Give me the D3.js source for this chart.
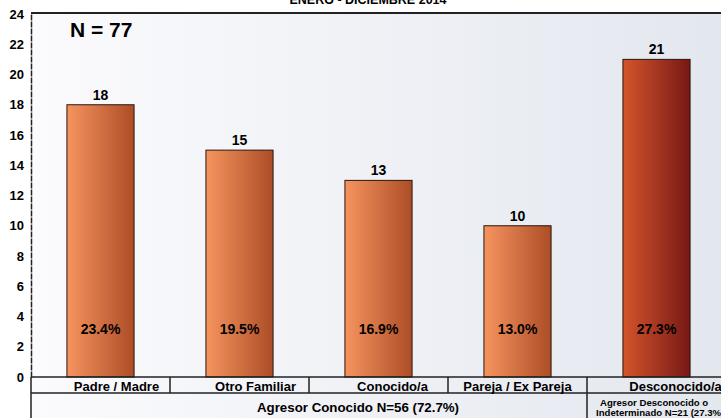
<!DOCTYPE html>
<html>
<head>
<meta charset="utf-8">
<title>Agresor</title>
<script src="https://d3js.org/d3.v7.min.js"></script>
<style>
  body { margin: 0; background: #fff; }
  text { font-family: "Liberation Sans", Arial, sans-serif; font-weight: bold; fill: #000; }
</style>
</head>
<body>
<svg width="721" height="418"></svg>
<script>
// data
var categories = ["Padre / Madre", "Otro Familiar", "Conocido/a", "Pareja / Ex Pareja", "Desconocido/a"];
var counts = [18, 15, 13, 10, 21];
var percents = ["23.4%", "19.5%", "16.9%", "13.0%", "27.3%"];
var yTicks = [0, 2, 4, 6, 8, 10, 12, 14, 16, 18, 20, 22, 24];
var groups = [
  { lines: ["Agresor Conocido N=56 (72.7%)"], from: 0, to: 4 },
  { lines: ["Agresor Desconocido o", "Indeterminado N=21 (27.3%)"], from: 4, to: 5 }
];
var title = "ENERO - DICIEMBRE 2014";
var nLabel = "N = 77";

var svg = d3.select("svg");
var mLeft = 31, mRight = 726, mTop = 14, mBottom = 377;

var x = d3.scaleBand().domain(categories).range([mLeft, mRight]).paddingInner(0.517).paddingOuter(0.2585);
var y = d3.scaleLinear().domain([0, 24]).range([mBottom, mTop]);
var step = x.step();

var defs = svg.append("defs");
var bg = defs.append("linearGradient").attr("id", "bg");
bg.append("stop").attr("offset", "0%").attr("stop-color", "#fbfbfd");
bg.append("stop").attr("offset", "100%").attr("stop-color", "#e3e7ee");
var g1 = defs.append("linearGradient").attr("id", "bar1");
g1.append("stop").attr("offset", "0%").attr("stop-color", "#f6945f");
g1.append("stop").attr("offset", "100%").attr("stop-color", "#ad4d27");
var g2 = defs.append("linearGradient").attr("id", "bar2");
g2.append("stop").attr("offset", "0%").attr("stop-color", "#d4552b");
g2.append("stop").attr("offset", "100%").attr("stop-color", "#771816");

// plot background
svg.append("rect").attr("x", mLeft).attr("y", mTop).attr("width", 721 - mLeft).attr("height", 418 - mTop)
  .attr("fill", "url(#bg)");

// title (cut off at top)
svg.append("text").attr("x", 368).attr("y", 4).attr("text-anchor", "middle")
  .attr("font-size", 12.5).text(title);

// top border
svg.append("line").attr("x1", mLeft).attr("x2", 721).attr("y1", mTop - 1).attr("y2", mTop - 1)
  .attr("stroke", "#222").attr("stroke-width", 2);

// y axis
var ax = svg.append("g").attr("transform", "translate(" + mLeft + ",0)")
  .call(d3.axisLeft(y).tickValues(yTicks).tickSize(0).tickPadding(7));
ax.select(".domain").attr("stroke", "#222").attr("stroke-width", 1.5).attr("stroke-dasharray", "6,1");
ax.selectAll("text").attr("font-size", 13).attr("font-family", "Liberation Sans, Arial, sans-serif")
  .attr("font-weight", "bold");

// bars
svg.selectAll(".bar").data(categories).enter().append("rect")
  .attr("class", "bar")
  .attr("x", function(d) { return x(d); })
  .attr("y", function(d, i) { return y(counts[i]); })
  .attr("width", x.bandwidth())
  .attr("height", function(d, i) { return y(0) - y(counts[i]); })
  .attr("fill", function(d, i) { return i == 4 ? "url(#bar2)" : "url(#bar1)"; })
  .attr("stroke", "#2a150c").attr("stroke-width", 1);

svg.selectAll(".val").data(categories).enter().append("text")
  .attr("x", function(d) { return x(d) + x.bandwidth() / 2; })
  .attr("y", function(d, i) { return y(counts[i]) - 5; })
  .attr("text-anchor", "middle").attr("font-size", 14)
  .text(function(d, i) { return counts[i]; });

svg.selectAll(".pct").data(categories).enter().append("text")
  .attr("x", function(d) { return x(d) + x.bandwidth() / 2; })
  .attr("y", 334)
  .attr("text-anchor", "middle").attr("font-size", 14)
  .text(function(d, i) { return percents[i]; });

svg.append("text").attr("x", 70).attr("y", 37).attr("font-size", 21).text(nLabel);

// category table
var row1 = 393;
var labelShift = [16, 16, 14, 0, 19];
svg.append("line").attr("x1", mLeft).attr("x2", 721).attr("y1", mBottom).attr("y2", mBottom)
  .attr("stroke", "#222").attr("stroke-width", 1.5);
svg.append("line").attr("x1", mLeft).attr("x2", 721).attr("y1", row1).attr("y2", row1)
  .attr("stroke", "#222").attr("stroke-width", 1.5);
svg.append("line").attr("x1", mLeft).attr("x2", mLeft).attr("y1", mBottom).attr("y2", 418)
  .attr("stroke", "#222").attr("stroke-width", 1.5);
categories.forEach(function(c, i) {
  var bx = x(c) + x.bandwidth() / 2;
  svg.append("text").attr("x", bx + labelShift[i]).attr("y", row1 - 2).attr("text-anchor", "middle")
    .attr("font-size", 13).text(c);
  if (i > 0) {
    var lx = x(c) - (step - x.bandwidth()) / 2;
    svg.append("line").attr("x1", lx).attr("x2", lx).attr("y1", mBottom).attr("y2", i == 4 ? 418 : row1)
      .attr("stroke", "#222").attr("stroke-width", 1.5);
  }
});
groups.forEach(function(gr) {
  var x0 = x(categories[gr.from]) - (step - x.bandwidth()) / 2;
  if (gr.lines.length == 1) {
    svg.append("text").attr("x", 358).attr("y", 412).attr("text-anchor", "middle")
      .attr("font-size", 13.3).text(gr.lines[0]);
  } else {
    gr.lines.forEach(function(l, k) {
      svg.append("text").attr("x", x0 + 9 + (k == 0 ? 4 : 0)).attr("y", 406 + k * 10)
        .attr("font-size", 9.6).text(l);
    });
  }
});
</script>
</body>
</html>
